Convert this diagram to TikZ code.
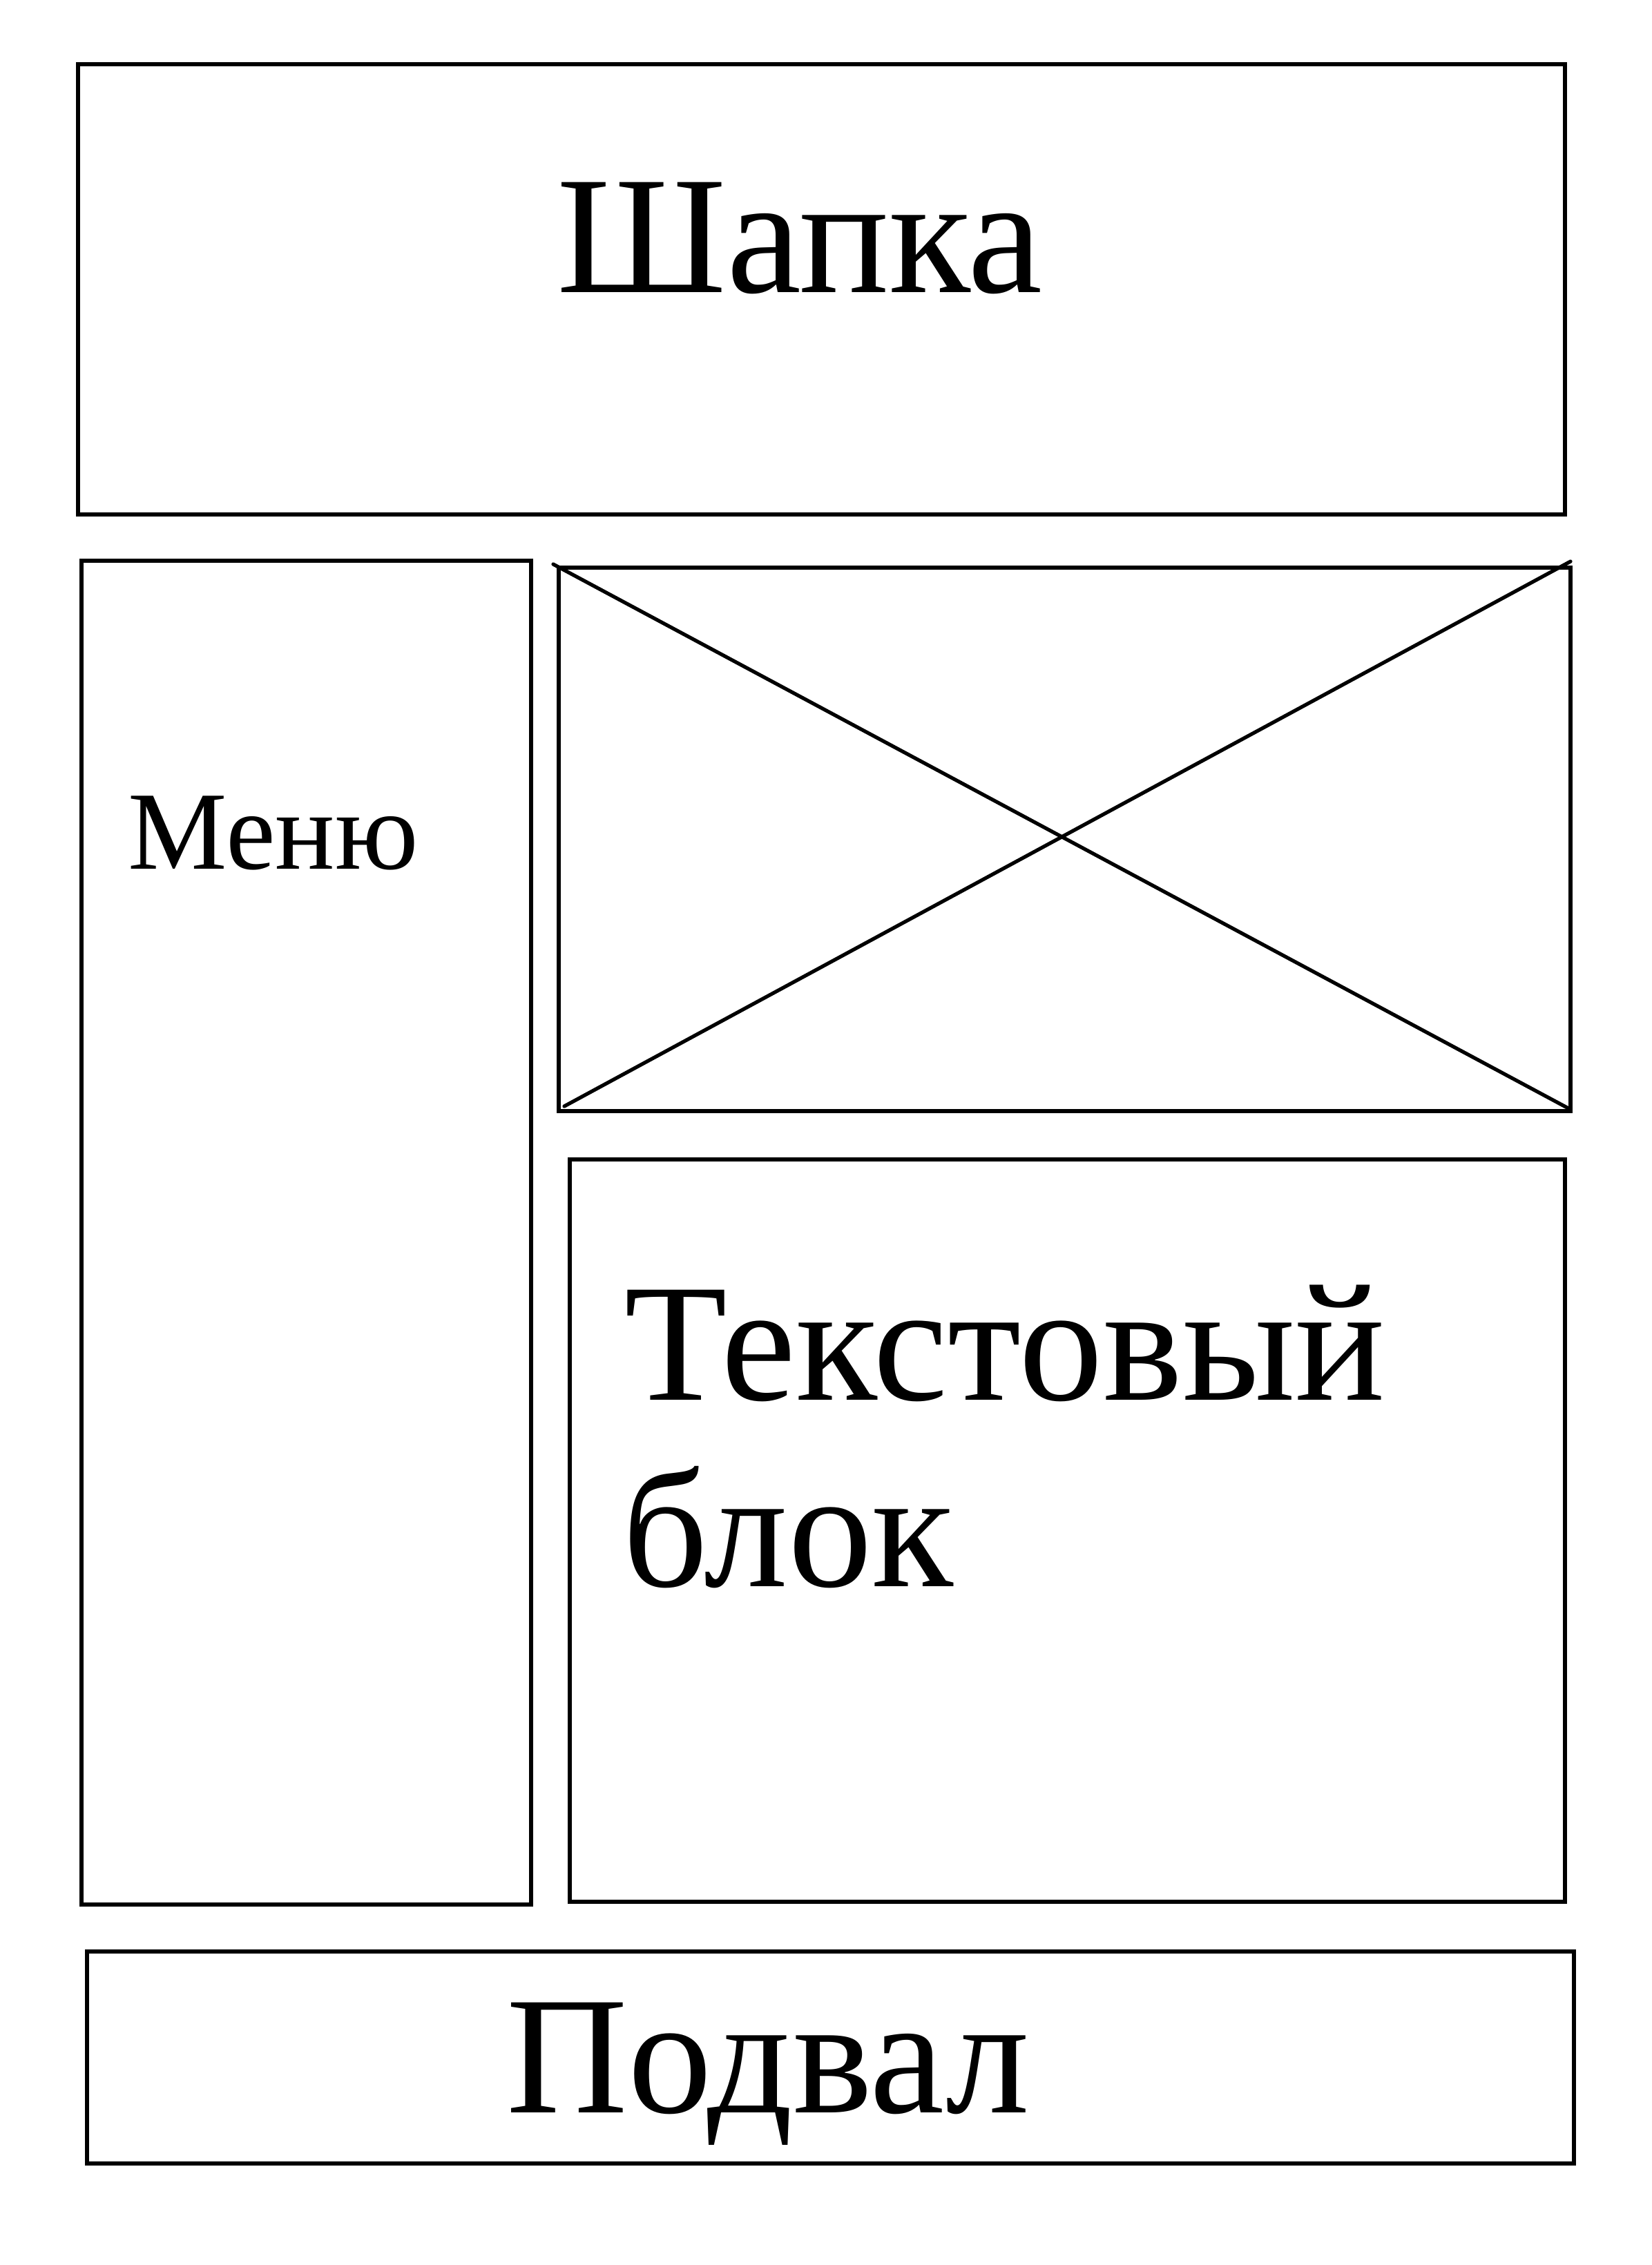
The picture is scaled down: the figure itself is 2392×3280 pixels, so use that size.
\documentclass[tikz,border=0pt]{standalone}
\usepackage{fontspec}
\setmainfont{Liberation Serif}
\begin{document}
\begin{tikzpicture}[x=0.01cm,y=-0.01cm,
  block/.style={draw, line width=1.7pt, inner sep=0pt, outer sep=0pt, anchor=north west},
  cross/.style={line width=1.5pt, line cap=round},
  bigtext/.style={font=\fontsize{69.2}{78}\selectfont, inner sep=0pt, anchor=base west},
  midtext/.style={font=\fontsize{45.9}{54}\selectfont, inner sep=0pt, anchor=base west}]
\useasboundingbox (0,0) rectangle (2392,3280);

% page regions
\node[block, minimum width=21.52cm, minimum height=6.52cm] (header) at (113,93) {};
\node[block, minimum width=6.51cm, minimum height=19.45cm] (menu) at (118,812) {};
\node[block, minimum width=14.64cm, minimum height=7.87cm] (image) at (809,822) {};
\node[block, minimum width=14.40cm, minimum height=10.74cm] (textblock) at (825,1679) {};
\node[block, minimum width=21.52cm, minimum height=3.07cm] (footer) at (126,2826) {};

% image placeholder cross
\coordinate (imgA) at (801,817);
\coordinate (imgB) at (2271,1605);
\coordinate (imgC) at (817,1602);
\coordinate (imgD) at (2274,813);
\draw[cross] (imgA) -- (imgB);
\draw[cross] (imgC) -- (imgD);

% labels
\node[bigtext] (headerlabel) at (806,423) {Шапка};
\node[midtext] (menulabel) at (185,1258) {Меню};
\node[bigtext] (textlabelA) at (904,2027) {Текстовый};
\node[bigtext] (textlabelB) at (901,2297) {блок};
\node[bigtext] (footerlabel) at (733,3059) {Подвал};
\end{tikzpicture}
\end{document}
